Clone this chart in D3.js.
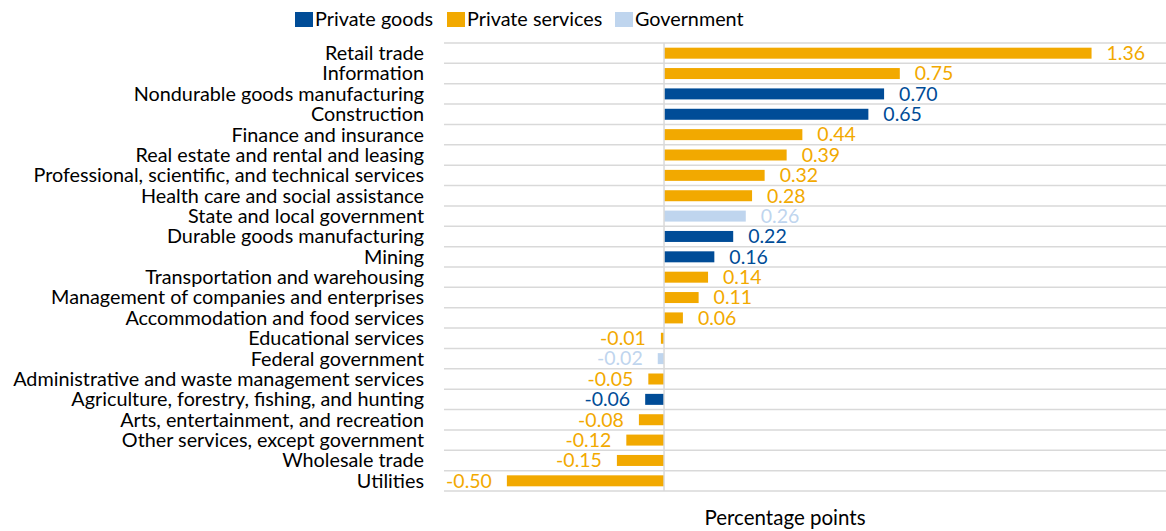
<!DOCTYPE html>
<html>
<head>
<meta charset="utf-8">
<script src="https://cdn.jsdelivr.net/npm/d3@7"></script>
<style>
  html, body { margin: 0; padding: 0; background: #fff; }
  svg { display: block; }
  text { font-family: Lato, "Open Sans", sans-serif; }
</style>
</head>
<body>
<svg id="chart" width="1166" height="531"></svg>
<script>
// Contribution to growth by industry, in percentage points
const industries = [
  "Retail trade",
  "Information",
  "Nondurable goods manufacturing",
  "Construction",
  "Finance and insurance",
  "Real estate and rental and leasing",
  "Professional, scientific, and technical services",
  "Health care and social assistance",
  "State and local government",
  "Durable goods manufacturing",
  "Mining",
  "Transportation and warehousing",
  "Management of companies and enterprises",
  "Accommodation and food services",
  "Educational services",
  "Federal government",
  "Administrative and waste management services",
  "Agriculture, forestry, fishing, and hunting",
  "Arts, entertainment, and recreation",
  "Other services, except government",
  "Wholesale trade",
  "Utilities"
];
const contributions = [1.36, 0.75, 0.70, 0.65, 0.44, 0.39, 0.32, 0.28, 0.26, 0.22, 0.16, 0.14, 0.11, 0.06,
  -0.01, -0.02, -0.05, -0.06, -0.08, -0.12, -0.15, -0.50];
const sectors = ["Private services", "Private services", "Private goods", "Private goods", "Private services",
  "Private services", "Private services", "Private services", "Government", "Private goods", "Private goods",
  "Private services", "Private services", "Private services", "Private services", "Government",
  "Private services", "Private goods", "Private services", "Private services", "Private services", "Private services"];
const sectorNames = ["Private goods", "Private services", "Government"];
const sectorColors = ["#004C97", "#F2A900", "#BFD5EE"];
const xDomain = [-0.7, 1.6];
const axisTitle = "Percentage points";

const rows = industries.map((name, i) => ({ name, value: contributions[i], sector: sectors[i] }));

const svg = d3.select("#chart");
const plot = { left: 444, right: 1167, top: 43, bottom: 491 };

const x = d3.scaleLinear().domain(xDomain).range([plot.left, plot.right]);
const y = d3.scaleBand().domain(industries).range([plot.top, plot.bottom])
  .paddingInner(0.46).paddingOuter(0.23);
const color = d3.scaleOrdinal().domain(sectorNames).range(sectorColors);
const step = y.step();
const fmt = v => d3.format(".2f")(v).replace("\u2212", "-");

// horizontal separators between categories
svg.append("g").selectAll("line")
  .data(d3.range(industries.length + 1))
  .join("line")
  .attr("x1", plot.left).attr("x2", plot.right)
  .attr("y1", i => plot.top + i * step).attr("y2", i => plot.top + i * step)
  .attr("stroke", "#d9d9d9").attr("stroke-width", 1.5);

// bars
svg.append("g").selectAll("rect")
  .data(rows)
  .join("rect")
  .attr("x", d => x(Math.min(0, d.value)))
  .attr("width", d => Math.abs(x(d.value) - x(0)))
  .attr("y", d => y(d.name))
  .attr("height", y.bandwidth())
  .attr("fill", d => color(d.sector));

// zero line
svg.append("line")
  .attr("x1", x(0)).attr("x2", x(0))
  .attr("y1", plot.top).attr("y2", plot.bottom)
  .attr("stroke", "#d9d9d9").attr("stroke-width", 1.5);

// category labels
const yAxis = d3.axisLeft(y).tickSize(0).tickPadding(0);
const ya = svg.append("g").attr("transform", `translate(424,0)`).call(yAxis);
ya.select(".domain").remove();
ya.selectAll("text")
  .attr("font-family", "Lato, sans-serif")
  .attr("font-size", 19.8)
  .attr("fill", "#000")
  .attr("dy", "0.35em");

// value labels
svg.append("g").selectAll("text")
  .data(rows)
  .join("text")
  .attr("x", d => d.value >= 0 ? x(d.value) + 15 : x(d.value) - 15)
  .attr("y", d => y(d.name) + y.bandwidth() / 2)
  .attr("dy", "0.35em")
  .attr("text-anchor", d => d.value >= 0 ? "start" : "end")
  .attr("font-size", 19.5)
  .attr("fill", d => color(d.sector))
  .text(d => fmt(d.value));

// legend
const legendX = [295, 447, 615];
const legend = svg.append("g").selectAll("g")
  .data(sectorNames)
  .join("g")
  .attr("transform", (d, i) => `translate(${legendX[i]},12)`);
legend.append("rect").attr("width", 18).attr("height", 15).attr("fill", d => color(d));
legend.append("text")
  .attr("x", 20).attr("y", 14)
  .attr("font-size", 19.8).attr("fill", "#000")
  .text(d => d);

// axis title
svg.append("text")
  .attr("x", 785).attr("y", 525)
  .attr("text-anchor", "middle")
  .attr("font-size", 20.5).attr("fill", "#000")
  .text(axisTitle);
</script>
</body>
</html>
